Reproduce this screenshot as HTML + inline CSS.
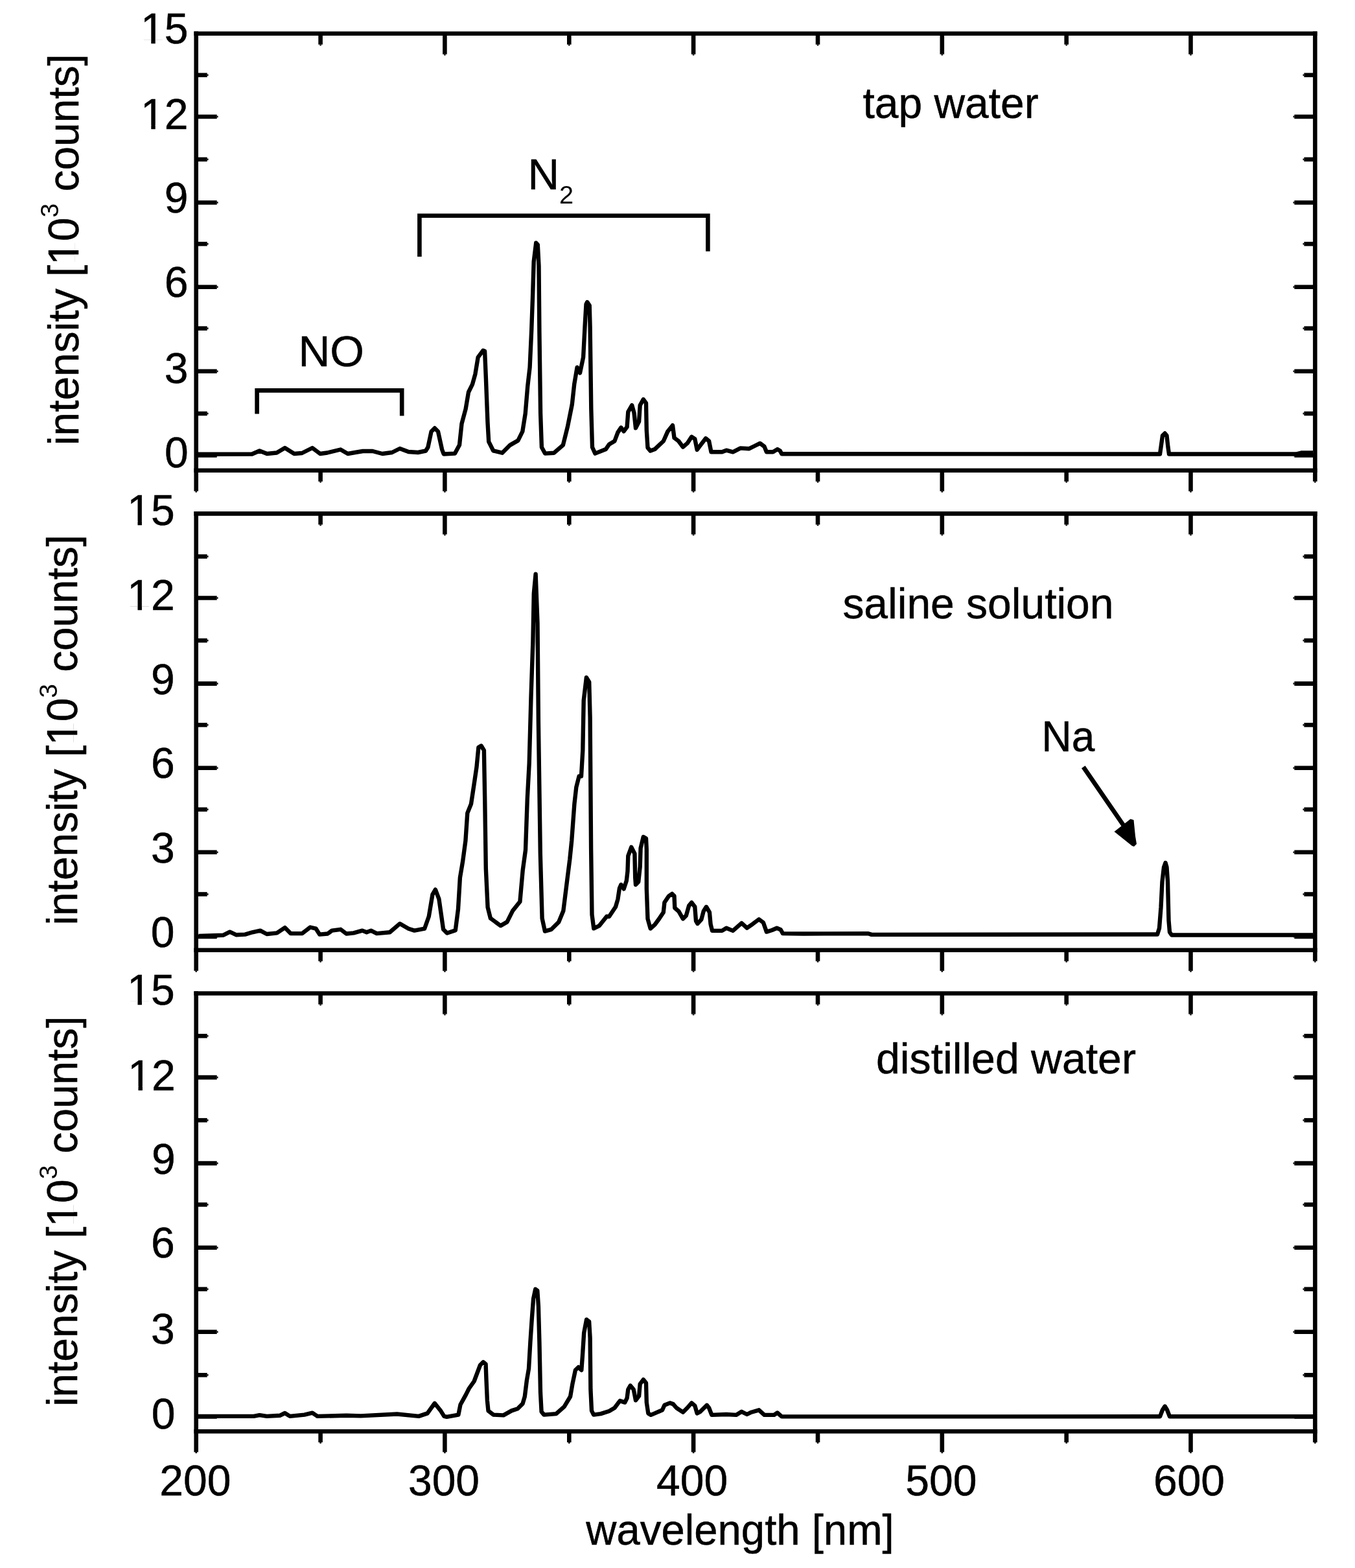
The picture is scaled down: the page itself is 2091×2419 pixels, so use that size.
<!DOCTYPE html>
<html><head><meta charset="utf-8"><title>Emission spectra: tap water, saline solution, distilled water</title>
<style>html,body{margin:0;padding:0;background:#fff;}svg{display:block;}
text{font-family:"Liberation Sans",Arial,sans-serif;font-size:66px;fill:#000;stroke:#000;stroke-width:0.5px;}</style></head>
<body><svg width="2091" height="2419" viewBox="0 0 2091 2419">
<rect width="2091" height="2419" fill="#fff"/>
<g stroke="#000" fill="none">
<line x1="299.4" y1="51.7" x2="2032.7" y2="51.7" stroke-width="6.6" stroke-linecap="butt"/>
<line x1="299.4" y1="725.8" x2="2032.7" y2="725.8" stroke-width="6.6" stroke-linecap="butt"/>
<line x1="302.7" y1="48.4" x2="302.7" y2="757.8" stroke-width="6.6" stroke-linecap="butt"/>
<line x1="302.7" y1="757.8" x2="302.7" y2="759.6" stroke-width="2.6"/>
<line x1="2029.4" y1="48.4" x2="2029.4" y2="742.8" stroke-width="6.6" stroke-linecap="butt"/>
<line x1="2029.4" y1="742.8" x2="2029.4" y2="744.6" stroke-width="2.6"/>
<line x1="494.6" y1="51.7" x2="494.6" y2="68.7" stroke-width="6.6" stroke-linecap="butt"/>
<line x1="494.6" y1="68.7" x2="494.6" y2="70.5" stroke-width="2.6"/>
<line x1="494.6" y1="725.8" x2="494.6" y2="742.8" stroke-width="6.6" stroke-linecap="butt"/>
<line x1="494.6" y1="742.8" x2="494.6" y2="744.6" stroke-width="2.6"/>
<line x1="686.4" y1="51.7" x2="686.4" y2="83.7" stroke-width="6.6" stroke-linecap="butt"/>
<line x1="686.4" y1="83.7" x2="686.4" y2="85.5" stroke-width="2.6"/>
<line x1="686.4" y1="725.8" x2="686.4" y2="757.8" stroke-width="6.6" stroke-linecap="butt"/>
<line x1="686.4" y1="757.8" x2="686.4" y2="759.6" stroke-width="2.6"/>
<line x1="878.3" y1="51.7" x2="878.3" y2="68.7" stroke-width="6.6" stroke-linecap="butt"/>
<line x1="878.3" y1="68.7" x2="878.3" y2="70.5" stroke-width="2.6"/>
<line x1="878.3" y1="725.8" x2="878.3" y2="742.8" stroke-width="6.6" stroke-linecap="butt"/>
<line x1="878.3" y1="742.8" x2="878.3" y2="744.6" stroke-width="2.6"/>
<line x1="1070.1" y1="51.7" x2="1070.1" y2="83.7" stroke-width="6.6" stroke-linecap="butt"/>
<line x1="1070.1" y1="83.7" x2="1070.1" y2="85.5" stroke-width="2.6"/>
<line x1="1070.1" y1="725.8" x2="1070.1" y2="757.8" stroke-width="6.6" stroke-linecap="butt"/>
<line x1="1070.1" y1="757.8" x2="1070.1" y2="759.6" stroke-width="2.6"/>
<line x1="1262.0" y1="51.7" x2="1262.0" y2="68.7" stroke-width="6.6" stroke-linecap="butt"/>
<line x1="1262.0" y1="68.7" x2="1262.0" y2="70.5" stroke-width="2.6"/>
<line x1="1262.0" y1="725.8" x2="1262.0" y2="742.8" stroke-width="6.6" stroke-linecap="butt"/>
<line x1="1262.0" y1="742.8" x2="1262.0" y2="744.6" stroke-width="2.6"/>
<line x1="1453.8" y1="51.7" x2="1453.8" y2="83.7" stroke-width="6.6" stroke-linecap="butt"/>
<line x1="1453.8" y1="83.7" x2="1453.8" y2="85.5" stroke-width="2.6"/>
<line x1="1453.8" y1="725.8" x2="1453.8" y2="757.8" stroke-width="6.6" stroke-linecap="butt"/>
<line x1="1453.8" y1="757.8" x2="1453.8" y2="759.6" stroke-width="2.6"/>
<line x1="1645.7" y1="51.7" x2="1645.7" y2="68.7" stroke-width="6.6" stroke-linecap="butt"/>
<line x1="1645.7" y1="68.7" x2="1645.7" y2="70.5" stroke-width="2.6"/>
<line x1="1645.7" y1="725.8" x2="1645.7" y2="742.8" stroke-width="6.6" stroke-linecap="butt"/>
<line x1="1645.7" y1="742.8" x2="1645.7" y2="744.6" stroke-width="2.6"/>
<line x1="1837.5" y1="51.7" x2="1837.5" y2="83.7" stroke-width="6.6" stroke-linecap="butt"/>
<line x1="1837.5" y1="83.7" x2="1837.5" y2="85.5" stroke-width="2.6"/>
<line x1="1837.5" y1="725.8" x2="1837.5" y2="757.8" stroke-width="6.6" stroke-linecap="butt"/>
<line x1="1837.5" y1="757.8" x2="1837.5" y2="759.6" stroke-width="2.6"/>
<line x1="302.7" y1="702.5" x2="334.7" y2="702.5" stroke-width="6.6" stroke-linecap="butt"/>
<line x1="334.7" y1="702.5" x2="336.5" y2="702.5" stroke-width="2.6"/>
<line x1="2029.4" y1="702.5" x2="1997.4" y2="702.5" stroke-width="6.6" stroke-linecap="butt"/>
<line x1="1997.4" y1="702.5" x2="1995.6" y2="702.5" stroke-width="2.6"/>
<line x1="302.7" y1="638.0" x2="319.7" y2="638.0" stroke-width="6.6" stroke-linecap="butt"/>
<line x1="319.7" y1="638.0" x2="321.5" y2="638.0" stroke-width="2.6"/>
<line x1="2029.4" y1="638.0" x2="2012.4" y2="638.0" stroke-width="6.6" stroke-linecap="butt"/>
<line x1="2012.4" y1="638.0" x2="2010.6" y2="638.0" stroke-width="2.6"/>
<line x1="302.7" y1="572.8" x2="334.7" y2="572.8" stroke-width="6.6" stroke-linecap="butt"/>
<line x1="334.7" y1="572.8" x2="336.5" y2="572.8" stroke-width="2.6"/>
<line x1="2029.4" y1="572.8" x2="1997.4" y2="572.8" stroke-width="6.6" stroke-linecap="butt"/>
<line x1="1997.4" y1="572.8" x2="1995.6" y2="572.8" stroke-width="2.6"/>
<line x1="302.7" y1="506.6" x2="319.7" y2="506.6" stroke-width="6.6" stroke-linecap="butt"/>
<line x1="319.7" y1="506.6" x2="321.5" y2="506.6" stroke-width="2.6"/>
<line x1="2029.4" y1="506.6" x2="2012.4" y2="506.6" stroke-width="6.6" stroke-linecap="butt"/>
<line x1="2012.4" y1="506.6" x2="2010.6" y2="506.6" stroke-width="2.6"/>
<line x1="302.7" y1="442.7" x2="334.7" y2="442.7" stroke-width="6.6" stroke-linecap="butt"/>
<line x1="334.7" y1="442.7" x2="336.5" y2="442.7" stroke-width="2.6"/>
<line x1="2029.4" y1="442.7" x2="1997.4" y2="442.7" stroke-width="6.6" stroke-linecap="butt"/>
<line x1="1997.4" y1="442.7" x2="1995.6" y2="442.7" stroke-width="2.6"/>
<line x1="302.7" y1="376.3" x2="319.7" y2="376.3" stroke-width="6.6" stroke-linecap="butt"/>
<line x1="319.7" y1="376.3" x2="321.5" y2="376.3" stroke-width="2.6"/>
<line x1="2029.4" y1="376.3" x2="2012.4" y2="376.3" stroke-width="6.6" stroke-linecap="butt"/>
<line x1="2012.4" y1="376.3" x2="2010.6" y2="376.3" stroke-width="2.6"/>
<line x1="302.7" y1="312.5" x2="334.7" y2="312.5" stroke-width="6.6" stroke-linecap="butt"/>
<line x1="334.7" y1="312.5" x2="336.5" y2="312.5" stroke-width="2.6"/>
<line x1="2029.4" y1="312.5" x2="1997.4" y2="312.5" stroke-width="6.6" stroke-linecap="butt"/>
<line x1="1997.4" y1="312.5" x2="1995.6" y2="312.5" stroke-width="2.6"/>
<line x1="302.7" y1="245.9" x2="319.7" y2="245.9" stroke-width="6.6" stroke-linecap="butt"/>
<line x1="319.7" y1="245.9" x2="321.5" y2="245.9" stroke-width="2.6"/>
<line x1="2029.4" y1="245.9" x2="2012.4" y2="245.9" stroke-width="6.6" stroke-linecap="butt"/>
<line x1="2012.4" y1="245.9" x2="2010.6" y2="245.9" stroke-width="2.6"/>
<line x1="302.7" y1="180.0" x2="334.7" y2="180.0" stroke-width="6.6" stroke-linecap="butt"/>
<line x1="334.7" y1="180.0" x2="336.5" y2="180.0" stroke-width="2.6"/>
<line x1="2029.4" y1="180.0" x2="1997.4" y2="180.0" stroke-width="6.6" stroke-linecap="butt"/>
<line x1="1997.4" y1="180.0" x2="1995.6" y2="180.0" stroke-width="2.6"/>
<line x1="302.7" y1="115.8" x2="319.7" y2="115.8" stroke-width="6.6" stroke-linecap="butt"/>
<line x1="319.7" y1="115.8" x2="321.5" y2="115.8" stroke-width="2.6"/>
<line x1="2029.4" y1="115.8" x2="2012.4" y2="115.8" stroke-width="6.6" stroke-linecap="butt"/>
<line x1="2012.4" y1="115.8" x2="2010.6" y2="115.8" stroke-width="2.6"/>
</g>
<polyline points="305.0,700.7 389.0,700.5 400.5,695.5 412.0,700.0 427.0,698.5 439.6,691.0 454.0,700.0 466.0,699.0 482.0,691.0 494.0,700.0 505.0,698.5 525.5,693.5 536.7,700.0 548.0,698.0 560.0,696.0 575.0,696.0 590.0,700.0 605.0,698.0 617.0,692.0 630.4,697.0 645.0,698.0 657.0,695.5 660.4,690.0 665.6,665.7 670.8,660.5 676.0,665.7 682.1,693.5 684.7,700.5 702.0,699.6 709.0,686.6 712.5,653.6 718.6,631.0 723.0,605.0 729.0,592.8 733.4,577.1 737.7,551.1 745.5,540.8 748.1,541.8 749.9,584.0 752.5,651.8 754.2,681.4 761.2,695.3 775.0,698.7 787.2,686.6 799.4,679.6 806.3,665.7 810.7,638.0 814.2,596.2 817.6,566.7 820.2,509.4 822.0,459.0 823.7,403.4 827.2,374.8 829.8,377.4 831.5,410.4 832.4,512.9 834.1,638.0 835.9,690.0 841.1,699.6 855.0,698.7 868.9,686.6 875.8,658.8 882.8,624.0 886.2,592.8 890.6,566.7 895.0,575.4 900.1,551.1 902.8,499.0 904.5,469.4 906.2,466.0 909.7,471.2 910.6,504.2 912.3,631.0 914.0,690.0 918.4,699.6 934.9,693.0 940.0,685.5 948.4,680.5 953.4,667.1 958.4,659.6 962.6,665.4 967.6,658.7 969.3,635.3 975.2,625.2 978.5,637.0 981.0,660.4 986.1,650.4 987.7,625.2 992.8,616.0 997.0,621.9 997.8,663.8 999.5,690.6 1003.7,695.6 1010.4,693.1 1023.8,680.5 1030.5,665.4 1038.0,656.2 1040.5,675.5 1047.2,680.5 1053.9,689.7 1060.6,683.9 1067.3,673.8 1072.3,677.2 1075.7,693.9 1080.7,687.2 1089.1,676.3 1094.1,680.5 1097.5,697.3 1114.2,697.3 1120.9,694.7 1131.0,697.3 1142.7,691.4 1156.1,692.2 1164.5,688.0 1172.8,683.9 1179.5,688.9 1182.9,697.3 1192.9,697.3 1199.6,693.1 1203.8,695.6 1206.3,700.3 1240.0,700.3 1790.0,700.5 1791.5,690.0 1794.0,672.0 1797.6,668.5 1800.5,672.0 1802.5,690.0 1804.0,700.5 2000.0,700.5 2008.0,698.5 2026.0,698.5" fill="none" stroke="#000" stroke-width="6.4" stroke-linejoin="round" stroke-linecap="butt"/>
<g stroke="#000" fill="none">
<line x1="299.4" y1="792.4" x2="2032.7" y2="792.4" stroke-width="6.6" stroke-linecap="butt"/>
<line x1="299.4" y1="1465.8" x2="2032.7" y2="1465.8" stroke-width="6.6" stroke-linecap="butt"/>
<line x1="302.7" y1="789.1" x2="302.7" y2="1497.8" stroke-width="6.6" stroke-linecap="butt"/>
<line x1="302.7" y1="1497.8" x2="302.7" y2="1499.6" stroke-width="2.6"/>
<line x1="2029.4" y1="789.1" x2="2029.4" y2="1482.8" stroke-width="6.6" stroke-linecap="butt"/>
<line x1="2029.4" y1="1482.8" x2="2029.4" y2="1484.6" stroke-width="2.6"/>
<line x1="494.6" y1="792.4" x2="494.6" y2="809.4" stroke-width="6.6" stroke-linecap="butt"/>
<line x1="494.6" y1="809.4" x2="494.6" y2="811.2" stroke-width="2.6"/>
<line x1="494.6" y1="1465.8" x2="494.6" y2="1482.8" stroke-width="6.6" stroke-linecap="butt"/>
<line x1="494.6" y1="1482.8" x2="494.6" y2="1484.6" stroke-width="2.6"/>
<line x1="686.4" y1="792.4" x2="686.4" y2="824.4" stroke-width="6.6" stroke-linecap="butt"/>
<line x1="686.4" y1="824.4" x2="686.4" y2="826.2" stroke-width="2.6"/>
<line x1="686.4" y1="1465.8" x2="686.4" y2="1497.8" stroke-width="6.6" stroke-linecap="butt"/>
<line x1="686.4" y1="1497.8" x2="686.4" y2="1499.6" stroke-width="2.6"/>
<line x1="878.3" y1="792.4" x2="878.3" y2="809.4" stroke-width="6.6" stroke-linecap="butt"/>
<line x1="878.3" y1="809.4" x2="878.3" y2="811.2" stroke-width="2.6"/>
<line x1="878.3" y1="1465.8" x2="878.3" y2="1482.8" stroke-width="6.6" stroke-linecap="butt"/>
<line x1="878.3" y1="1482.8" x2="878.3" y2="1484.6" stroke-width="2.6"/>
<line x1="1070.1" y1="792.4" x2="1070.1" y2="824.4" stroke-width="6.6" stroke-linecap="butt"/>
<line x1="1070.1" y1="824.4" x2="1070.1" y2="826.2" stroke-width="2.6"/>
<line x1="1070.1" y1="1465.8" x2="1070.1" y2="1497.8" stroke-width="6.6" stroke-linecap="butt"/>
<line x1="1070.1" y1="1497.8" x2="1070.1" y2="1499.6" stroke-width="2.6"/>
<line x1="1262.0" y1="792.4" x2="1262.0" y2="809.4" stroke-width="6.6" stroke-linecap="butt"/>
<line x1="1262.0" y1="809.4" x2="1262.0" y2="811.2" stroke-width="2.6"/>
<line x1="1262.0" y1="1465.8" x2="1262.0" y2="1482.8" stroke-width="6.6" stroke-linecap="butt"/>
<line x1="1262.0" y1="1482.8" x2="1262.0" y2="1484.6" stroke-width="2.6"/>
<line x1="1453.8" y1="792.4" x2="1453.8" y2="824.4" stroke-width="6.6" stroke-linecap="butt"/>
<line x1="1453.8" y1="824.4" x2="1453.8" y2="826.2" stroke-width="2.6"/>
<line x1="1453.8" y1="1465.8" x2="1453.8" y2="1497.8" stroke-width="6.6" stroke-linecap="butt"/>
<line x1="1453.8" y1="1497.8" x2="1453.8" y2="1499.6" stroke-width="2.6"/>
<line x1="1645.7" y1="792.4" x2="1645.7" y2="809.4" stroke-width="6.6" stroke-linecap="butt"/>
<line x1="1645.7" y1="809.4" x2="1645.7" y2="811.2" stroke-width="2.6"/>
<line x1="1645.7" y1="1465.8" x2="1645.7" y2="1482.8" stroke-width="6.6" stroke-linecap="butt"/>
<line x1="1645.7" y1="1482.8" x2="1645.7" y2="1484.6" stroke-width="2.6"/>
<line x1="1837.5" y1="792.4" x2="1837.5" y2="824.4" stroke-width="6.6" stroke-linecap="butt"/>
<line x1="1837.5" y1="824.4" x2="1837.5" y2="826.2" stroke-width="2.6"/>
<line x1="1837.5" y1="1465.8" x2="1837.5" y2="1497.8" stroke-width="6.6" stroke-linecap="butt"/>
<line x1="1837.5" y1="1497.8" x2="1837.5" y2="1499.6" stroke-width="2.6"/>
<line x1="302.7" y1="1445.0" x2="334.7" y2="1445.0" stroke-width="6.6" stroke-linecap="butt"/>
<line x1="334.7" y1="1445.0" x2="336.5" y2="1445.0" stroke-width="2.6"/>
<line x1="2029.4" y1="1445.0" x2="1997.4" y2="1445.0" stroke-width="6.6" stroke-linecap="butt"/>
<line x1="1997.4" y1="1445.0" x2="1995.6" y2="1445.0" stroke-width="2.6"/>
<line x1="302.7" y1="1379.5" x2="319.7" y2="1379.5" stroke-width="6.6" stroke-linecap="butt"/>
<line x1="319.7" y1="1379.5" x2="321.5" y2="1379.5" stroke-width="2.6"/>
<line x1="2029.4" y1="1379.5" x2="2012.4" y2="1379.5" stroke-width="6.6" stroke-linecap="butt"/>
<line x1="2012.4" y1="1379.5" x2="2010.6" y2="1379.5" stroke-width="2.6"/>
<line x1="302.7" y1="1314.8" x2="334.7" y2="1314.8" stroke-width="6.6" stroke-linecap="butt"/>
<line x1="334.7" y1="1314.8" x2="336.5" y2="1314.8" stroke-width="2.6"/>
<line x1="2029.4" y1="1314.8" x2="1997.4" y2="1314.8" stroke-width="6.6" stroke-linecap="butt"/>
<line x1="1997.4" y1="1314.8" x2="1995.6" y2="1314.8" stroke-width="2.6"/>
<line x1="302.7" y1="1248.8" x2="319.7" y2="1248.8" stroke-width="6.6" stroke-linecap="butt"/>
<line x1="319.7" y1="1248.8" x2="321.5" y2="1248.8" stroke-width="2.6"/>
<line x1="2029.4" y1="1248.8" x2="2012.4" y2="1248.8" stroke-width="6.6" stroke-linecap="butt"/>
<line x1="2012.4" y1="1248.8" x2="2010.6" y2="1248.8" stroke-width="2.6"/>
<line x1="302.7" y1="1184.8" x2="334.7" y2="1184.8" stroke-width="6.6" stroke-linecap="butt"/>
<line x1="334.7" y1="1184.8" x2="336.5" y2="1184.8" stroke-width="2.6"/>
<line x1="2029.4" y1="1184.8" x2="1997.4" y2="1184.8" stroke-width="6.6" stroke-linecap="butt"/>
<line x1="1997.4" y1="1184.8" x2="1995.6" y2="1184.8" stroke-width="2.6"/>
<line x1="302.7" y1="1118.4" x2="319.7" y2="1118.4" stroke-width="6.6" stroke-linecap="butt"/>
<line x1="319.7" y1="1118.4" x2="321.5" y2="1118.4" stroke-width="2.6"/>
<line x1="2029.4" y1="1118.4" x2="2012.4" y2="1118.4" stroke-width="6.6" stroke-linecap="butt"/>
<line x1="2012.4" y1="1118.4" x2="2010.6" y2="1118.4" stroke-width="2.6"/>
<line x1="302.7" y1="1054.6" x2="334.7" y2="1054.6" stroke-width="6.6" stroke-linecap="butt"/>
<line x1="334.7" y1="1054.6" x2="336.5" y2="1054.6" stroke-width="2.6"/>
<line x1="2029.4" y1="1054.6" x2="1997.4" y2="1054.6" stroke-width="6.6" stroke-linecap="butt"/>
<line x1="1997.4" y1="1054.6" x2="1995.6" y2="1054.6" stroke-width="2.6"/>
<line x1="302.7" y1="988.1" x2="319.7" y2="988.1" stroke-width="6.6" stroke-linecap="butt"/>
<line x1="319.7" y1="988.1" x2="321.5" y2="988.1" stroke-width="2.6"/>
<line x1="2029.4" y1="988.1" x2="2012.4" y2="988.1" stroke-width="6.6" stroke-linecap="butt"/>
<line x1="2012.4" y1="988.1" x2="2010.6" y2="988.1" stroke-width="2.6"/>
<line x1="302.7" y1="922.5" x2="334.7" y2="922.5" stroke-width="6.6" stroke-linecap="butt"/>
<line x1="334.7" y1="922.5" x2="336.5" y2="922.5" stroke-width="2.6"/>
<line x1="2029.4" y1="922.5" x2="1997.4" y2="922.5" stroke-width="6.6" stroke-linecap="butt"/>
<line x1="1997.4" y1="922.5" x2="1995.6" y2="922.5" stroke-width="2.6"/>
<line x1="302.7" y1="858.5" x2="319.7" y2="858.5" stroke-width="6.6" stroke-linecap="butt"/>
<line x1="319.7" y1="858.5" x2="321.5" y2="858.5" stroke-width="2.6"/>
<line x1="2029.4" y1="858.5" x2="2012.4" y2="858.5" stroke-width="6.6" stroke-linecap="butt"/>
<line x1="2012.4" y1="858.5" x2="2010.6" y2="858.5" stroke-width="2.6"/>
</g>
<polyline points="306.7,1443.9 344.7,1442.7 354.7,1437.6 364.8,1442.3 378.2,1441.6 389.3,1438.3 401.6,1435.6 411.7,1441.0 427.3,1439.4 439.6,1431.1 448.5,1440.1 466.4,1440.1 478.7,1430.5 487.6,1432.7 493.2,1441.6 505.5,1440.5 512.2,1435.6 525.6,1433.8 534.5,1440.5 545.7,1439.4 559.1,1435.6 565.8,1438.3 572.5,1435.6 581.4,1440.1 601.5,1438.3 617.1,1424.9 630.5,1432.7 639.5,1435.6 655.1,1432.7 661.8,1413.7 667.4,1380.2 671.9,1372.4 677.4,1386.9 684.1,1433.8 688.6,1438.3 690.0,1439.5 702.8,1435.2 707.0,1402.5 709.9,1354.0 714.2,1328.4 718.4,1297.1 721.3,1254.4 727.0,1240.2 731.3,1211.7 735.5,1183.2 738.4,1153.0 742.6,1150.5 746.9,1157.6 748.3,1237.3 749.8,1339.8 752.6,1399.6 756.9,1416.7 772.5,1428.1 782.5,1422.4 791.0,1405.3 802.4,1391.1 806.7,1342.7 811.0,1311.3 813.8,1231.6 816.7,1177.5 819.5,1075.0 822.4,989.6 823.8,915.6 826.6,885.7 829.5,961.1 830.9,1114.9 833.8,1317.0 836.6,1416.7 840.9,1436.6 850.8,1433.8 862.2,1422.4 869.3,1405.3 875.0,1359.7 879.3,1325.6 882.2,1297.1 886.4,1240.2 889.3,1214.5 893.6,1197.5 897.0,1197.5 899.3,1157.6 900.7,1080.7 904.9,1045.1 909.2,1052.2 910.6,1106.3 912.1,1308.5 913.5,1411.0 916.3,1432.4 924.9,1428.1 936.3,1413.8 940.0,1414.1 950.0,1399.0 953.4,1387.3 955.9,1370.6 958.4,1364.7 962.6,1371.4 966.8,1358.8 968.5,1343.8 969.3,1320.3 974.3,1306.9 979.4,1317.0 980.2,1353.8 981.0,1364.7 985.2,1360.5 987.7,1337.1 988.6,1308.6 992.8,1291.0 997.0,1293.5 997.8,1310.3 997.8,1370.6 999.5,1417.5 1003.7,1432.5 1010.4,1426.7 1017.1,1417.5 1023.8,1407.4 1025.4,1392.3 1032.1,1382.3 1037.2,1378.9 1040.5,1382.3 1041.3,1400.7 1047.2,1405.7 1053.9,1417.5 1058.9,1412.4 1063.1,1397.4 1067.3,1392.3 1072.3,1399.0 1074.0,1420.8 1076.5,1425.0 1082.4,1418.3 1085.7,1405.7 1089.9,1399.0 1094.9,1407.4 1096.6,1425.8 1099.1,1435.9 1114.2,1435.9 1120.9,1431.7 1131.0,1435.9 1144.4,1424.2 1152.7,1431.7 1161.1,1425.8 1171.2,1418.3 1177.9,1423.3 1182.9,1437.6 1191.3,1435.0 1198.8,1431.7 1204.7,1434.2 1208.0,1440.1 1240.0,1440.5 1340.0,1440.2 1345.0,1441.9 1786.0,1441.5 1789.0,1432.0 1791.5,1400.0 1793.5,1360.0 1796.0,1338.0 1798.5,1331.0 1800.5,1338.0 1802.0,1360.0 1803.5,1420.0 1805.0,1438.0 1808.0,1442.5 2026.0,1442.5" fill="none" stroke="#000" stroke-width="6.4" stroke-linejoin="round" stroke-linecap="butt"/>
<g stroke="#000" fill="none">
<line x1="299.4" y1="1532.5" x2="2032.7" y2="1532.5" stroke-width="6.6" stroke-linecap="butt"/>
<line x1="299.4" y1="2208.2" x2="2032.7" y2="2208.2" stroke-width="6.6" stroke-linecap="butt"/>
<line x1="302.7" y1="1529.2" x2="302.7" y2="2240.2" stroke-width="6.6" stroke-linecap="butt"/>
<line x1="302.7" y1="2240.2" x2="302.7" y2="2242.0" stroke-width="2.6"/>
<line x1="2029.4" y1="1529.2" x2="2029.4" y2="2225.2" stroke-width="6.6" stroke-linecap="butt"/>
<line x1="2029.4" y1="2225.2" x2="2029.4" y2="2227.0" stroke-width="2.6"/>
<line x1="494.6" y1="1532.5" x2="494.6" y2="1549.5" stroke-width="6.6" stroke-linecap="butt"/>
<line x1="494.6" y1="1549.5" x2="494.6" y2="1551.3" stroke-width="2.6"/>
<line x1="494.6" y1="2208.2" x2="494.6" y2="2225.2" stroke-width="6.6" stroke-linecap="butt"/>
<line x1="494.6" y1="2225.2" x2="494.6" y2="2227.0" stroke-width="2.6"/>
<line x1="686.4" y1="1532.5" x2="686.4" y2="1564.5" stroke-width="6.6" stroke-linecap="butt"/>
<line x1="686.4" y1="1564.5" x2="686.4" y2="1566.3" stroke-width="2.6"/>
<line x1="686.4" y1="2208.2" x2="686.4" y2="2240.2" stroke-width="6.6" stroke-linecap="butt"/>
<line x1="686.4" y1="2240.2" x2="686.4" y2="2242.0" stroke-width="2.6"/>
<line x1="878.3" y1="1532.5" x2="878.3" y2="1549.5" stroke-width="6.6" stroke-linecap="butt"/>
<line x1="878.3" y1="1549.5" x2="878.3" y2="1551.3" stroke-width="2.6"/>
<line x1="878.3" y1="2208.2" x2="878.3" y2="2225.2" stroke-width="6.6" stroke-linecap="butt"/>
<line x1="878.3" y1="2225.2" x2="878.3" y2="2227.0" stroke-width="2.6"/>
<line x1="1070.1" y1="1532.5" x2="1070.1" y2="1564.5" stroke-width="6.6" stroke-linecap="butt"/>
<line x1="1070.1" y1="1564.5" x2="1070.1" y2="1566.3" stroke-width="2.6"/>
<line x1="1070.1" y1="2208.2" x2="1070.1" y2="2240.2" stroke-width="6.6" stroke-linecap="butt"/>
<line x1="1070.1" y1="2240.2" x2="1070.1" y2="2242.0" stroke-width="2.6"/>
<line x1="1262.0" y1="1532.5" x2="1262.0" y2="1549.5" stroke-width="6.6" stroke-linecap="butt"/>
<line x1="1262.0" y1="1549.5" x2="1262.0" y2="1551.3" stroke-width="2.6"/>
<line x1="1262.0" y1="2208.2" x2="1262.0" y2="2225.2" stroke-width="6.6" stroke-linecap="butt"/>
<line x1="1262.0" y1="2225.2" x2="1262.0" y2="2227.0" stroke-width="2.6"/>
<line x1="1453.8" y1="1532.5" x2="1453.8" y2="1564.5" stroke-width="6.6" stroke-linecap="butt"/>
<line x1="1453.8" y1="1564.5" x2="1453.8" y2="1566.3" stroke-width="2.6"/>
<line x1="1453.8" y1="2208.2" x2="1453.8" y2="2240.2" stroke-width="6.6" stroke-linecap="butt"/>
<line x1="1453.8" y1="2240.2" x2="1453.8" y2="2242.0" stroke-width="2.6"/>
<line x1="1645.7" y1="1532.5" x2="1645.7" y2="1549.5" stroke-width="6.6" stroke-linecap="butt"/>
<line x1="1645.7" y1="1549.5" x2="1645.7" y2="1551.3" stroke-width="2.6"/>
<line x1="1645.7" y1="2208.2" x2="1645.7" y2="2225.2" stroke-width="6.6" stroke-linecap="butt"/>
<line x1="1645.7" y1="2225.2" x2="1645.7" y2="2227.0" stroke-width="2.6"/>
<line x1="1837.5" y1="1532.5" x2="1837.5" y2="1564.5" stroke-width="6.6" stroke-linecap="butt"/>
<line x1="1837.5" y1="1564.5" x2="1837.5" y2="1566.3" stroke-width="2.6"/>
<line x1="1837.5" y1="2208.2" x2="1837.5" y2="2240.2" stroke-width="6.6" stroke-linecap="butt"/>
<line x1="1837.5" y1="2240.2" x2="1837.5" y2="2242.0" stroke-width="2.6"/>
<line x1="302.7" y1="2185.4" x2="334.7" y2="2185.4" stroke-width="6.6" stroke-linecap="butt"/>
<line x1="334.7" y1="2185.4" x2="336.5" y2="2185.4" stroke-width="2.6"/>
<line x1="2029.4" y1="2185.4" x2="1997.4" y2="2185.4" stroke-width="6.6" stroke-linecap="butt"/>
<line x1="1997.4" y1="2185.4" x2="1995.6" y2="2185.4" stroke-width="2.6"/>
<line x1="302.7" y1="2121.3" x2="319.7" y2="2121.3" stroke-width="6.6" stroke-linecap="butt"/>
<line x1="319.7" y1="2121.3" x2="321.5" y2="2121.3" stroke-width="2.6"/>
<line x1="2029.4" y1="2121.3" x2="2012.4" y2="2121.3" stroke-width="6.6" stroke-linecap="butt"/>
<line x1="2012.4" y1="2121.3" x2="2010.6" y2="2121.3" stroke-width="2.6"/>
<line x1="302.7" y1="2054.8" x2="334.7" y2="2054.8" stroke-width="6.6" stroke-linecap="butt"/>
<line x1="334.7" y1="2054.8" x2="336.5" y2="2054.8" stroke-width="2.6"/>
<line x1="2029.4" y1="2054.8" x2="1997.4" y2="2054.8" stroke-width="6.6" stroke-linecap="butt"/>
<line x1="1997.4" y1="2054.8" x2="1995.6" y2="2054.8" stroke-width="2.6"/>
<line x1="302.7" y1="1988.8" x2="319.7" y2="1988.8" stroke-width="6.6" stroke-linecap="butt"/>
<line x1="319.7" y1="1988.8" x2="321.5" y2="1988.8" stroke-width="2.6"/>
<line x1="2029.4" y1="1988.8" x2="2012.4" y2="1988.8" stroke-width="6.6" stroke-linecap="butt"/>
<line x1="2012.4" y1="1988.8" x2="2010.6" y2="1988.8" stroke-width="2.6"/>
<line x1="302.7" y1="1924.8" x2="334.7" y2="1924.8" stroke-width="6.6" stroke-linecap="butt"/>
<line x1="334.7" y1="1924.8" x2="336.5" y2="1924.8" stroke-width="2.6"/>
<line x1="2029.4" y1="1924.8" x2="1997.4" y2="1924.8" stroke-width="6.6" stroke-linecap="butt"/>
<line x1="1997.4" y1="1924.8" x2="1995.6" y2="1924.8" stroke-width="2.6"/>
<line x1="302.7" y1="1858.4" x2="319.7" y2="1858.4" stroke-width="6.6" stroke-linecap="butt"/>
<line x1="319.7" y1="1858.4" x2="321.5" y2="1858.4" stroke-width="2.6"/>
<line x1="2029.4" y1="1858.4" x2="2012.4" y2="1858.4" stroke-width="6.6" stroke-linecap="butt"/>
<line x1="2012.4" y1="1858.4" x2="2010.6" y2="1858.4" stroke-width="2.6"/>
<line x1="302.7" y1="1794.6" x2="334.7" y2="1794.6" stroke-width="6.6" stroke-linecap="butt"/>
<line x1="334.7" y1="1794.6" x2="336.5" y2="1794.6" stroke-width="2.6"/>
<line x1="2029.4" y1="1794.6" x2="1997.4" y2="1794.6" stroke-width="6.6" stroke-linecap="butt"/>
<line x1="1997.4" y1="1794.6" x2="1995.6" y2="1794.6" stroke-width="2.6"/>
<line x1="302.7" y1="1728.2" x2="319.7" y2="1728.2" stroke-width="6.6" stroke-linecap="butt"/>
<line x1="319.7" y1="1728.2" x2="321.5" y2="1728.2" stroke-width="2.6"/>
<line x1="2029.4" y1="1728.2" x2="2012.4" y2="1728.2" stroke-width="6.6" stroke-linecap="butt"/>
<line x1="2012.4" y1="1728.2" x2="2010.6" y2="1728.2" stroke-width="2.6"/>
<line x1="302.7" y1="1662.1" x2="334.7" y2="1662.1" stroke-width="6.6" stroke-linecap="butt"/>
<line x1="334.7" y1="1662.1" x2="336.5" y2="1662.1" stroke-width="2.6"/>
<line x1="2029.4" y1="1662.1" x2="1997.4" y2="1662.1" stroke-width="6.6" stroke-linecap="butt"/>
<line x1="1997.4" y1="1662.1" x2="1995.6" y2="1662.1" stroke-width="2.6"/>
<line x1="302.7" y1="1598.2" x2="319.7" y2="1598.2" stroke-width="6.6" stroke-linecap="butt"/>
<line x1="319.7" y1="1598.2" x2="321.5" y2="1598.2" stroke-width="2.6"/>
<line x1="2029.4" y1="1598.2" x2="2012.4" y2="1598.2" stroke-width="6.6" stroke-linecap="butt"/>
<line x1="2012.4" y1="1598.2" x2="2010.6" y2="1598.2" stroke-width="2.6"/>
</g>
<polyline points="304.0,2184.9 391.6,2184.9 400.5,2183.1 411.7,2184.9 431.8,2183.8 439.6,2180.0 447.4,2184.9 469.7,2182.6 482.0,2179.7 489.8,2184.9 534.5,2183.8 556.8,2184.4 612.7,2181.5 646.2,2184.9 659.6,2180.4 670.7,2164.8 679.7,2175.9 685.3,2184.9 689.4,2185.8 707.4,2182.6 710.5,2167.0 719.1,2151.4 723.8,2142.0 731.6,2131.0 736.3,2118.5 741.0,2106.0 745.7,2101.3 749.6,2104.5 750.4,2126.3 751.9,2160.7 753.5,2176.4 761.3,2182.6 776.9,2183.4 789.4,2176.4 798.8,2173.3 806.6,2165.4 809.8,2154.5 812.9,2129.5 816.0,2111.5 818.4,2070.1 820.7,2035.7 823.1,2003.6 826.2,1988.8 829.3,1991.1 830.9,2015.3 832.4,2070.1 834.0,2148.2 835.6,2177.9 839.5,2182.6 858.2,2181.1 870.7,2170.1 880.1,2154.5 883.3,2135.7 887.9,2113.8 892.6,2109.2 897.3,2113.8 898.9,2092.0 901.2,2056.0 905.1,2035.7 909.1,2038.8 910.6,2063.8 911.4,2143.5 913.0,2176.4 916.1,2182.6 927.0,2181.1 940.0,2177.0 948.4,2172.0 953.4,2165.3 956.8,2161.1 964.3,2163.6 967.6,2156.9 969.3,2143.5 972.7,2137.6 977.7,2143.5 981.0,2160.3 986.1,2153.6 987.7,2135.1 992.8,2128.4 997.0,2133.5 997.8,2163.6 1000.3,2180.4 1004.5,2182.9 1010.4,2180.4 1022.1,2175.3 1025.4,2167.8 1033.8,2164.4 1038.8,2166.1 1043.9,2172.0 1053.9,2178.7 1060.6,2172.0 1067.3,2164.4 1072.3,2168.6 1075.7,2180.4 1080.7,2177.8 1090.8,2167.8 1094.1,2172.0 1098.3,2182.9 1120.9,2182.0 1136.0,2182.9 1144.4,2177.8 1152.7,2182.0 1159.4,2178.7 1171.2,2175.3 1179.5,2182.9 1194.6,2182.9 1199.6,2179.5 1206.3,2185.4 1240.0,2185.4 1790.0,2185.3 1794.0,2175.0 1797.6,2169.5 1801.0,2175.0 1805.0,2185.3 2026.0,2185.3" fill="none" stroke="#000" stroke-width="6.4" stroke-linejoin="round" stroke-linecap="butt"/>
<g stroke="#000" fill="none" stroke-width="6.6">
<polyline points="396.6,638.4 396.6,602.4 620.2,602.4 620.2,641.5"/>
<polyline points="647.4,396.1 647.4,332.7 1092.4,332.7 1092.4,387.7"/>
<line x1="1671.8" y1="1183.2" x2="1737" y2="1278" stroke-width="6.8"/>
</g>
<polygon points="1719.5,1283 1744.5,1263.5 1749.5,1265 1752,1290 1754,1302 1750,1306 1747,1305" fill="#000"/>
<g transform="translate(2.70,-1.55)"><text id="yl0_15t" x="287.7" y="68.7" text-anchor="end">15</text><rect x="217.50" y="62.94" width="13.07" height="8.66" fill="#fff"/><rect x="237.01" y="62.94" width="12.72" height="8.66" fill="#fff"/></g>
<g transform="translate(2.70,-0.30)"><text id="yl0_12t" x="287.7" y="199.0" text-anchor="end">12</text><rect x="217.50" y="193.24" width="13.07" height="8.66" fill="#fff"/><rect x="237.01" y="193.24" width="12.72" height="8.66" fill="#fff"/></g>
<g transform="translate(2.70,-1.75)"><text id="yl0_9t" x="287.7" y="329.5" text-anchor="end">9</text></g>
<g transform="translate(2.70,-1.05)"><text id="yl0_6t" x="287.7" y="459.3" text-anchor="end">6</text></g>
<g transform="translate(2.70,-0.25)"><text id="yl0_3t" x="287.7" y="591.3" text-anchor="end">3</text></g>
<g transform="translate(2.30,-0.75)"><text id="yl0_0t" x="288.3" y="721.8" text-anchor="end">0</text></g>
<g transform="translate(2.80,-2.00)"><text id="yl1_15t" x="266.8" y="811.7" text-anchor="end">15</text><rect x="196.60" y="805.94" width="13.07" height="8.66" fill="#fff"/><rect x="216.11" y="805.94" width="12.72" height="8.66" fill="#fff"/></g>
<g transform="translate(2.80,0.00)"><text id="yl1_12t" x="266.8" y="941.3" text-anchor="end">12</text><rect x="196.60" y="935.54" width="13.07" height="8.66" fill="#fff"/><rect x="216.11" y="935.54" width="12.72" height="8.66" fill="#fff"/></g>
<g transform="translate(2.80,-1.00)"><text id="yl1_9t" x="266.8" y="1071.8" text-anchor="end">9</text></g>
<g transform="translate(2.80,-1.30)"><text id="yl1_6t" x="266.8" y="1201.8" text-anchor="end">6</text></g>
<g transform="translate(2.80,-1.00)"><text id="yl1_3t" x="266.8" y="1332.1" text-anchor="end">3</text></g>
<g transform="translate(2.20,-0.70)"><text id="yl1_0t" x="267.2" y="1461.9" text-anchor="end">0</text></g>
<g transform="translate(2.30,-1.80)"><text id="yl2_15t" x="267.3" y="1551.8" text-anchor="end">15</text><rect x="197.10" y="1546.04" width="13.07" height="8.66" fill="#fff"/><rect x="216.61" y="1546.04" width="12.72" height="8.66" fill="#fff"/></g>
<g transform="translate(3.30,-0.50)"><text id="yl2_12t" x="267.3" y="1682.1" text-anchor="end">12</text><rect x="197.10" y="1676.34" width="13.07" height="8.66" fill="#fff"/><rect x="216.61" y="1676.34" width="12.72" height="8.66" fill="#fff"/></g>
<g transform="translate(3.30,-1.05)"><text id="yl2_9t" x="267.3" y="1811.6" text-anchor="end">9</text></g>
<g transform="translate(2.30,-1.30)"><text id="yl2_6t" x="267.3" y="1941.8" text-anchor="end">6</text></g>
<g transform="translate(2.30,-0.75)"><text id="yl2_3t" x="267.3" y="2073.9" text-anchor="end">3</text></g>
<g transform="translate(2.70,-0.20)"><text id="yl2_0t" x="267.7" y="2204.4" text-anchor="end">0</text></g>
<g transform="translate(99.05,87.20) scale(1,0.9987) translate(-99.00,-87.00)"><g transform="translate(121.0,385.3) rotate(-90)"><text id="yt0t" x="0" y="0" text-anchor="middle">intensity [10<tspan font-size="39" dy="-31" stroke="none">3</tspan><tspan dy="31"> counts]</tspan></text><rect x="-20.53" y="-5.76" width="13.07" height="8.66" fill="#fff"/><rect x="-1.02" y="-5.76" width="12.72" height="8.66" fill="#fff"/></g></g>
<g transform="translate(97.25,829.80) scale(1,0.9960) translate(-99.00,-829.00)"><g transform="translate(121.0,1126.6) rotate(-90)"><text id="yt1t" x="0" y="0" text-anchor="middle">intensity [10<tspan font-size="39" dy="-31" stroke="none">3</tspan><tspan dy="31"> counts]</tspan></text><rect x="-20.53" y="-5.76" width="13.07" height="8.66" fill="#fff"/><rect x="-1.02" y="-5.76" width="12.72" height="8.66" fill="#fff"/></g></g>
<g transform="translate(97.25,1572.10) scale(1,0.9960) translate(-99.00,-1571.00)"><g transform="translate(121.0,1868.9) rotate(-90)"><text id="yt2t" x="0" y="0" text-anchor="middle">intensity [10<tspan font-size="39" dy="-31" stroke="none">3</tspan><tspan dy="31"> counts]</tspan></text><rect x="-20.53" y="-5.76" width="13.07" height="8.66" fill="#fff"/><rect x="-1.02" y="-5.76" width="12.72" height="8.66" fill="#fff"/></g></g>
<g transform="translate(-0.10,-0.55)"><text x="301.4" y="2307.2" text-anchor="middle">200</text></g>
<g transform="translate(0.00,-0.45)"><text x="685.0" y="2307.2" text-anchor="middle">300</text></g>
<g transform="translate(0.30,-0.30)"><text x="1067.8" y="2307.2" text-anchor="middle">400</text></g>
<g transform="translate(-0.10,-0.40)"><text x="1452.4" y="2307.2" text-anchor="middle">500</text></g>
<g transform="translate(-0.50,-0.40)"><text x="1835.5" y="2307.2" text-anchor="middle">600</text></g>
<g transform="translate(903.60,2365.90) scale(0.9893,1) translate(-899.00,-2365.00)"><text x="1140" y="2382.4" text-anchor="middle">wavelength [nm]</text></g>
<g transform="translate(1332.20,167.40) scale(0.9989,1) translate(-1332.00,-168.00)"><text x="1467" y="183.1" text-anchor="middle">tap water</text></g>
<g transform="translate(1301.50,930.90) scale(0.9998,1) translate(-1300.00,-931.50)"><text x="1508" y="954.8" text-anchor="middle">saline solution</text></g>
<g transform="translate(1353.90,1632.40) scale(1.0030,1) translate(-1355.00,-1632.50)"><text x="1553" y="1655.9" text-anchor="middle">distilled water</text></g>
<g transform="translate(466.10,542.85) scale(1.0264,1) translate(-469.00,-544.00)"><text x="513" y="566.5" text-anchor="middle">NO</text></g>
<g transform="translate(1612.60,1137.05) scale(0.9675,1) translate(-1614.00,-1138.50)"><text x="1651" y="1160.9" text-anchor="middle">Na</text></g>
<g transform="translate(819.60,280.25) scale(1.0190,1) translate(-823.00,-281.00)"><text x="818" y="292.8">N<tspan font-size="39" dy="22.3" stroke="none">2</tspan></text></g>
</svg></body></html>
